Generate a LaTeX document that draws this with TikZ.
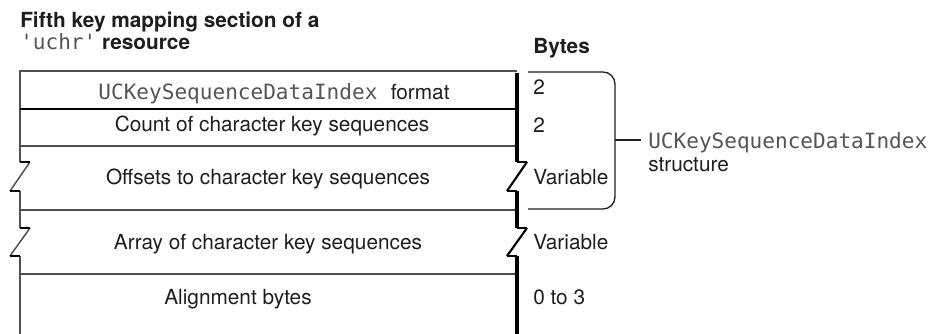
\documentclass[tikz,border=0pt]{standalone}
\usepackage{fontspec}
\setmainfont{TeX Gyre Heros}
\newfontfamily\codefont{DejaVu Sans Mono}
\definecolor{ink}{HTML}{1E1E1E}
\definecolor{rulegray}{HTML}{505050}
\definecolor{codegray}{HTML}{555555}
\newcommand\code[1]{{\codefont\fontsize{15.8}{18}\selectfont\color{codegray}#1}}

\begin{document}
\begin{tikzpicture}[x=0.75pt, y=-0.75pt,
  font=\fontsize{15.6}{19}\selectfont,
  txt/.style={inner sep=0pt, text=ink},
  celltext/.style={txt, anchor=base},
  bytetext/.style={txt, anchor=base west},
  frame/.style={draw=rulegray, line width=1.1pt},
  breaktick/.style={draw=black, line width=1.8pt},
  thickedge/.style={draw=black, line width=2.7pt},
  thickslant/.style={draw=black, line width=1.6pt},
  bracket/.style={draw=ink, line width=1pt, rounded corners=9pt},
  connector/.style={draw=ink, line width=1pt}]
\useasboundingbox (0,0) rectangle (931,334);

% heading
\node[txt, anchor=base west] (title1) at (20,28) {\bfseries Fifth key mapping section of a};
\node[txt, anchor=base west] (title2) at (20,50) {\code{'uchr'} \bfseries resource};
\node[txt, anchor=base west] (bytes) at (533,54) {\bfseries Bytes};

% outer frame, left side with two break marks
\draw[frame] (517,71) -- (20,71) -- (20,162);
\draw[frame] (20,191) -- (20,228);
\draw[frame] (20,256) -- (20,334);
\draw[frame] (30,162) -- (10,191);
\draw[frame] (30,228) -- (10,256);
\draw[breaktick] (20,162) -- (30,162);
\draw[breaktick] (10,191) -- (20,191);
\draw[breaktick] (20,228) -- (30,228);
\draw[breaktick] (10,256) -- (20,256);

% row separators
\draw[draw=black, line width=1.1pt] (20,109) -- (517,109);
\draw[frame] (20,146) -- (517,146);
\draw[frame] (20,210) -- (517,210);
\draw[frame] (20,274) -- (517,274);

% heavy right edge with break marks
\draw[thickedge] (517,73) -- (517,162);
\draw[thickedge] (517,191) -- (517,228);
\draw[thickedge] (517,256) -- (517,334);
\draw[thickslant] (527,162) -- (507,191);
\draw[thickslant] (527,228) -- (507,256);
\draw[breaktick] (517,162) -- (527,162);
\draw[breaktick] (507,191) -- (517,191);
\draw[breaktick] (517,228) -- (527,228);
\draw[breaktick] (507,256) -- (517,256);

% field names
\node[celltext] (f1) at (274,100) {\code{UCKeySequenceDataIndex}\hspace{10pt}format};
\node[celltext] (f2) at (272,132) {Count of character key sequences};
\node[celltext] (f3) at (268,185) {Offsets to character key sequences};
\node[celltext] (f4) at (268,250) {Array of character key sequences};
\node[celltext] (f5) at (238,305) {Alignment bytes};

% sizes
\node[bytetext] (b1) at (533,95) {2};
\node[bytetext] (b2) at (533,133) {2};
\node[bytetext] (b3) at (533,185) {Variable};
\node[bytetext] (b4) at (533,250) {Variable};
\node[bytetext] (b5) at (533,305) {0 to 3};

% bracket grouping the first three fields
\draw[bracket] (528,72) -- (615,72) -- (615,209) -- (528,209);
\coordinate (brk) at (615,140);
\node[txt, anchor=base west] (sname) at (648,149) {\code{UCKeySequenceDataIndex}};
\node[txt, anchor=base west] (sword) at (648,172) {structure};
\draw[connector, shorten >=5.25pt] (brk) -- (sname.west |- brk);
\end{tikzpicture}
\end{document}
